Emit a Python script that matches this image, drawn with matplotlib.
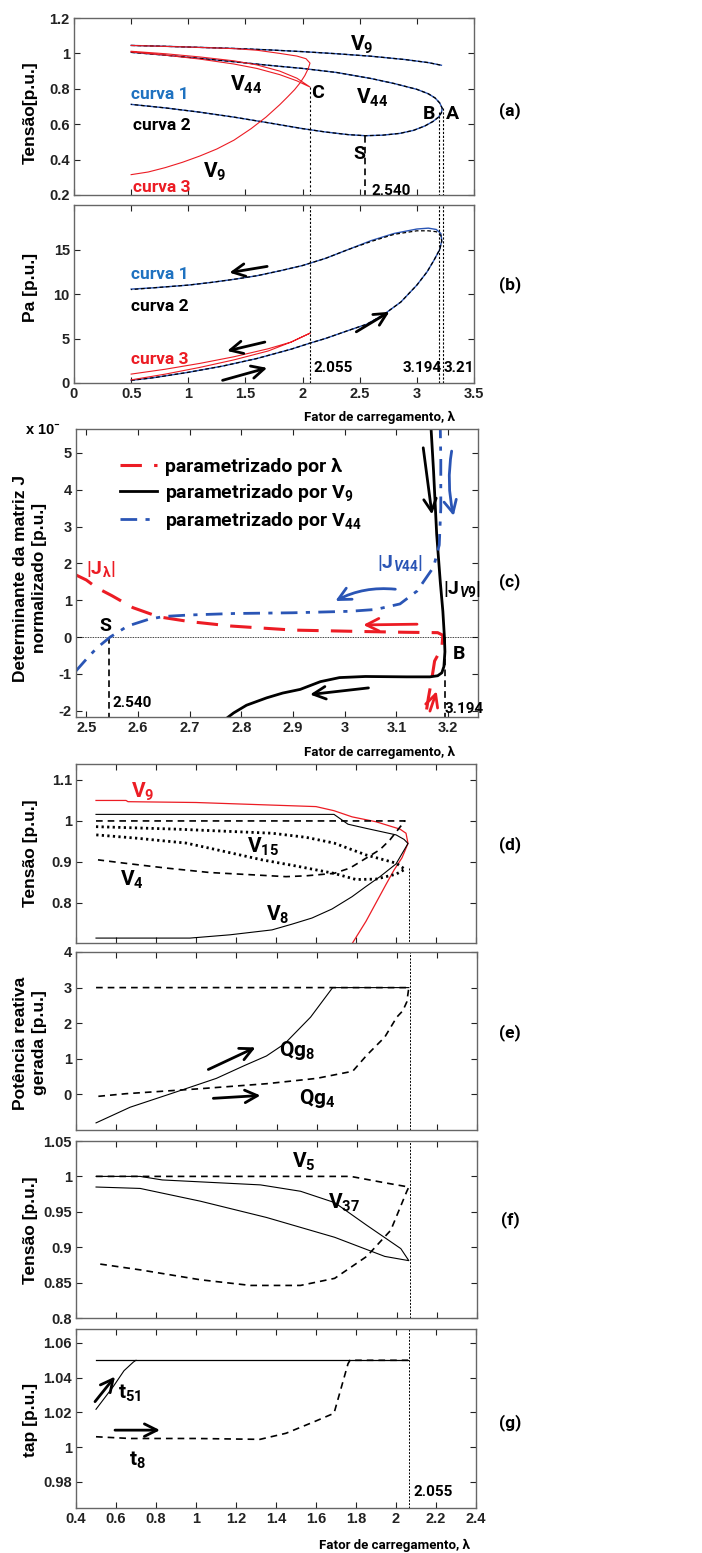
import matplotlib
matplotlib.use('Agg')
from matplotlib import pyplot as plt
from matplotlib.lines import Line2D
from matplotlib.ticker import FuncFormatter

plt.rcParams['font.family'] = ['Liberation Sans Narrow', 'Liberation Sans', 'DejaVu Sans']
plt.rcParams['font.weight'] = 'bold'
plt.rcParams['mathtext.fontset'] = 'custom'
plt.rcParams['mathtext.bf'] = 'Roboto:bold'
plt.rcParams['mathtext.rm'] = 'Roboto:bold'
plt.rcParams['mathtext.it'] = 'Roboto:bold:italic'
plt.rcParams['mathtext.default'] = 'bf'

RED = '#ec1c24'
BLUE = '#2a55b5'
CBLUE = '#1f72c0'
LAB = ['Roboto', 'DejaVu Sans']

# ---------------- (a) tensao ----------------
lam_v9 = [0.5, 0.8, 1.1, 1.4, 1.7, 2.0, 2.3, 2.6, 2.9, 3.1, 3.215]
v9_c1 = [1.045, 1.04, 1.034, 1.028, 1.02, 1.01, 0.998, 0.984, 0.965, 0.948, 0.933]
lam_v44 = [0.5, 0.8, 1.1, 1.4, 1.7, 2.0, 2.3, 2.6, 2.8, 3.0, 3.1, 3.16, 3.2, 3.222,
           3.215, 3.19, 3.14, 3.07, 2.97, 2.85, 2.7, 2.55, 2.4, 2.2, 2.0, 1.7, 1.4, 1.1, 0.8, 0.5]
v44_c1 = [1.006, 0.99, 0.972, 0.953, 0.933, 0.915, 0.892, 0.858, 0.83, 0.797, 0.772, 0.748, 0.72, 0.69,
          0.665, 0.64, 0.615, 0.59, 0.565, 0.548, 0.538, 0.535, 0.541, 0.556, 0.575, 0.608, 0.64, 0.668, 0.692, 0.712]
lam_v9_c3 = [0.5, 1.0, 1.4, 1.6, 1.8, 1.95, 2.03, 2.065,
             2.05, 2.02, 1.98, 1.93, 1.87, 1.8, 1.68, 1.55, 1.4, 1.25, 1.1, 0.95, 0.8, 0.65, 0.5]
v9_c3 = [1.045, 1.036, 1.027, 1.018, 1.0, 0.985, 0.97, 0.945,
         0.915, 0.875, 0.835, 0.795, 0.755, 0.71, 0.64, 0.575, 0.51, 0.46, 0.42, 0.385, 0.355, 0.33, 0.315]
lam_v44_c3 = [0.5, 0.8, 1.1, 1.4, 1.6, 1.8, 1.95, 2.065, 1.95, 1.8, 1.6, 1.4, 1.1, 0.8, 0.5]
v44_c3 = [1.012, 0.998, 0.98, 0.958, 0.935, 0.9, 0.86, 0.81, 0.845, 0.88, 0.915, 0.94, 0.968, 0.99, 1.008]

# ---------------- (b) Pa ----------------
lam_pa = [0.5, 0.7, 1.0, 1.3, 1.6, 1.9, 2.07, 2.2, 2.4, 2.56, 2.7, 2.86, 3.0, 3.09, 3.15, 3.2, 3.218,
          3.21, 3.17, 3.1, 3.0, 2.8, 2.6, 2.4, 2.2, 2.0, 1.8, 1.6, 1.4, 1.2, 1.0, 0.7, 0.5]
pa_c1 = [0.3, 0.6, 1.2, 1.9, 2.75, 3.8, 4.5, 5.0, 5.9, 6.6, 7.6, 9.1, 11.0, 12.5, 13.8, 15.0, 16.0,
         16.8, 17.25, 17.4, 17.3, 16.8, 16.0, 15.0, 14.0, 13.2, 12.6, 12.05, 11.65, 11.3, 11.0, 10.7, 10.55]
pa_c2 = [0.3, 0.6, 1.2, 1.9, 2.75, 3.8, 4.5, 5.0, 5.9, 6.6, 7.6, 9.1, 11.0, 12.5, 13.8, 15.0, 15.9,
         16.6, 17.0, 17.1, 17.1, 16.7, 15.9, 15.0, 14.0, 13.2, 12.6, 12.05, 11.65, 11.3, 11.0, 10.7, 10.5]
lam_pa_c3 = [0.5, 0.8, 1.1, 1.4, 1.7, 1.9, 2.065, 1.9, 1.7, 1.4, 1.1, 0.8, 0.5]
pa_c3 = [1.0, 1.55, 2.2, 2.95, 3.85, 4.6, 5.6, 4.6, 3.6, 2.6, 1.75, 1.0, 0.35]

# ---------------- (c) determinante ----------------
lam_jl = [2.475, 2.5, 2.52, 2.55, 2.59, 2.64, 2.7, 2.78, 2.9, 3.04, 3.12, 3.18, 3.19,
          3.188, 3.174, 3.169, 3.162, 3.156]
j_l = [1.72, 1.55, 1.34, 1.12, 0.8, 0.55, 0.42, 0.3, 0.19, 0.15, 0.13, 0.12, 0.05,
       -0.29, -0.65, -1.1, -1.65, -2.2]
lam_jv9 = [3.167, 3.172, 3.178, 3.185, 3.19, 3.193, 3.194, 3.192, 3.188, 3.18, 3.165, 3.12,
           3.04, 2.99, 2.953, 2.914, 2.88, 2.849, 2.81, 2.785, 2.772]
j_v9 = [5.7, 4.5, 2.8, 1.5, 0.7, 0.0, -0.4, -0.8, -0.97, -1.05, -1.08, -1.08,
        -1.07, -1.1, -1.21, -1.42, -1.52, -1.65, -1.85, -2.06, -2.2]
lam_jv44 = [2.478, 2.5, 2.52, 2.546, 2.58, 2.62, 2.65, 2.7, 2.785, 2.9, 3.01, 3.06, 3.107,
            3.14, 3.172, 3.183, 3.186, 3.186, 3.185]
j_v44 = [-0.95, -0.6, -0.3, 0.0, 0.3, 0.48, 0.56, 0.6, 0.64, 0.66, 0.7, 0.75, 0.9,
         1.25, 1.9, 2.5, 3.5, 4.8, 5.7]

# ---------------- (d) tensoes ----------------
lam_d_v9 = [0.5, 0.65, 0.66, 1.0, 1.3, 1.6, 1.69, 1.78, 1.9, 2.02, 2.05, 2.06,
            2.03, 1.99, 1.95, 1.9, 1.85, 1.78]
d_v9 = [1.05, 1.05, 1.047, 1.045, 1.04, 1.035, 1.025, 1.01, 0.998, 0.98, 0.97, 0.945,
        0.91, 0.88, 0.845, 0.8, 0.755, 0.7]
lam_d_v8 = [0.5, 1.0, 1.5, 1.69, 1.76, 1.85, 2.0, 2.04, 2.06,
            2.0, 1.92, 1.85, 1.78, 1.68, 1.58, 1.48, 1.38, 1.17, 0.97, 0.5]
d_v8 = [1.016, 1.016, 1.016, 1.016, 0.992, 0.982, 0.966, 0.955, 0.945,
        0.895, 0.864, 0.84, 0.815, 0.785, 0.763, 0.748, 0.734, 0.722, 0.714, 0.714]
lam_d_v4 = [0.5, 2.045, 2.045, 2.02, 1.97, 1.92, 1.85, 1.77, 1.69, 1.55, 1.45, 1.3, 1.07, 0.85, 0.64, 0.51]
d_v4 = [1.0, 1.0, 1.0, 0.985, 0.954, 0.93, 0.909, 0.885, 0.872, 0.866, 0.864, 0.868, 0.874, 0.885, 0.897, 0.905]
lam_d_v15 = [0.5, 0.9, 1.38, 1.55, 1.69, 1.85, 2.0, 2.045,
             2.0, 1.9, 1.8, 1.69, 1.5, 1.33, 1.1, 0.95, 0.7, 0.5]
d_v15 = [0.986, 0.98, 0.97, 0.96, 0.946, 0.917, 0.897, 0.882,
         0.87, 0.858, 0.857, 0.872, 0.89, 0.905, 0.93, 0.946, 0.958, 0.966]

# ---------------- (e) potencia reativa ----------------
lam_qg8 = [0.5, 0.67, 0.9, 1.1, 1.24, 1.35, 1.44, 1.57, 1.68, 2.06]
qg8 = [-0.8, -0.36, 0.07, 0.45, 0.81, 1.08, 1.42, 2.17, 3.0, 3.0]
lam_qg4 = [0.5, 2.06, 2.06, 2.05, 2.03, 2.0, 1.94, 1.85, 1.78, 1.6, 1.35, 1.02, 0.65, 0.5]
qg4 = [3.0, 3.0, 3.0, 2.6, 2.35, 2.17, 1.61, 1.1, 0.65, 0.45, 0.3, 0.16, 0.02, -0.06]

# ---------------- (f) tensoes ----------------
lam_v5 = [0.5, 1.77, 1.94, 2.06, 2.05, 1.97, 1.85, 1.69, 1.52, 1.27, 1.02, 0.72, 0.5]
v5 = [1.0, 1.0, 0.991, 0.985, 0.979, 0.924, 0.887, 0.856, 0.846, 0.846, 0.854, 0.868, 0.877]
lam_v37 = [0.5, 0.72, 0.83, 1.32, 1.52, 1.69, 1.85, 2.02, 2.06, 1.94, 1.69, 1.35, 1.02, 0.72, 0.5]
v37 = [1.0, 1.0, 0.995, 0.988, 0.979, 0.963, 0.931, 0.898, 0.881, 0.887, 0.914, 0.942, 0.965, 0.983, 0.985]

# ---------------- (g) tap ----------------
lam_t51 = [0.5, 2.06]
t51 = [1.05, 1.05]
lam_t51_up = [0.5, 0.587, 0.64, 0.687, 0.7]
t51_up = [1.0218, 1.035, 1.044, 1.049, 1.05]
lam_t8 = [0.5, 0.67, 1.0, 1.32, 1.45, 1.59, 1.69, 1.76, 1.77, 2.06]
t8 = [1.006, 1.005, 1.005, 1.0045, 1.008, 1.0146, 1.0195, 1.048, 1.05, 1.05]

lam_C = 2.065
lam_S = 2.55
lam_B = 3.194
lam_A = 3.225

W, H = 702, 1553
fig = plt.figure(figsize=(W / 100, H / 100), dpi=100)


def add_ax(l, r, t, b):
    ax = fig.add_axes([l / W, 1 - b / H, (r - l) / W, (b - t) / H])
    ax.tick_params(direction='in', top=True, right=True, length=4, width=0.8,
                   labelsize=10.5, colors='#222222', pad=3)
    for s in ax.spines.values():
        s.set_color('#666666')
        s.set_linewidth(1.0)
    ax.yaxis.set_major_formatter(FuncFormatter(lambda v, p: '%g' % v))
    ax.xaxis.set_major_formatter(FuncFormatter(lambda v, p: '%g' % v))
    return ax


def arrow(ax, tail, head, color='k', rad=0.0):
    ax.annotate('', xy=head, xytext=tail,
                arrowprops=dict(arrowstyle='->,head_length=0.9,head_width=0.45', lw=2,
                                color=color, connectionstyle='arc3,rad=%g' % rad,
                                shrinkA=0, shrinkB=0))


def lab(ax, x, y, s, color='k', size=13, ha='center'):
    ax.text(x, y, s, color=color, fontsize=size, ha=ha, va='center',
            family=LAB, fontweight='bold')


# (a)
ax = add_ax(74, 474, 18, 195)
ax.plot(lam_v9, v9_c1, color=BLUE, lw=1.0)
ax.plot(lam_v9, v9_c1, color='k', lw=0.9, ls=(0, (3, 2)))
ax.plot(lam_v44, v44_c1, color=BLUE, lw=1.0)
ax.plot(lam_v44, v44_c1, color='k', lw=0.9, ls=(0, (3, 2)))
ax.plot(lam_v9_c3, v9_c3, color=RED, lw=0.8)
ax.plot(lam_v44_c3, v44_c3, color=RED, lw=0.8)
ax.plot([lam_C, lam_C], [0.81, 0.2], color='k', lw=0.8, ls=(0, (2, 2)))
ax.plot([lam_B, lam_B], [0.67, 0.2], color='k', lw=0.8, ls=(0, (2, 1.5)))
ax.plot([lam_A, lam_A], [0.69, 0.2], color='k', lw=0.8, ls=(0, (2, 1.5)))
ax.plot([lam_S, lam_S], [0.535, 0.2], color='k', lw=1.2, ls=(0, (4, 2.5)))
ax.set_xlim(0, 3.5)
ax.set_ylim(0.2, 1.2)
ax.set_xticks([0, 0.5, 1, 1.5, 2, 2.5, 3, 3.5])
ax.set_yticks([0.2, 0.4, 0.6, 0.8, 1.0, 1.2])
ax.tick_params(labelbottom=False)
lab(ax, 2.52, 1.047, 'V$_9$', size=15)
lab(ax, 1.51, 0.82, 'V$_{44}$', size=15)
lab(ax, 2.13, 0.776, 'C', size=14)
lab(ax, 2.61, 0.75, 'V$_{44}$', size=15)
lab(ax, 3.11, 0.66, 'B', size=14)
lab(ax, 3.31, 0.66, 'A', size=14)
lab(ax, 0.75, 0.765, 'curva 1', color=CBLUE, size=12.5)
lab(ax, 0.77, 0.595, 'curva 2', size=12.5)
lab(ax, 2.50, 0.43, 'S', size=14)
lab(ax, 1.23, 0.33, 'V$_9$', size=15)
lab(ax, 0.77, 0.245, 'curva 3', color=RED, size=12.5)
lab(ax, 2.6, 0.22, '2.540', size=11, ha='left')

# (b)
ax = add_ax(74, 474, 205, 383)
ax.plot(lam_pa, pa_c1, color=BLUE, lw=1.0)
ax.plot(lam_pa, pa_c2, color='k', lw=0.9, ls=(0, (3, 2)))
ax.plot(lam_pa_c3, pa_c3, color=RED, lw=0.8)
for xv in (lam_C, lam_B, lam_A):
    ax.axvline(xv, color='k', lw=0.8, ls=(0, (2, 1.5)))
ax.set_xlim(0, 3.5)
ax.set_ylim(0, 20)
ax.set_xticks([0, 0.5, 1, 1.5, 2, 2.5, 3, 3.5])
ax.set_yticks([0, 5, 10, 15])
arrow(ax, (1.69, 13.1), (1.36, 12.4))
arrow(ax, (2.47, 5.75), (2.76, 8.0))
arrow(ax, (1.67, 4.6), (1.34, 3.6))
arrow(ax, (1.30, 0.3), (1.69, 1.7))
lab(ax, 0.75, 12.2, 'curva 1', color=CBLUE, size=12.5)
lab(ax, 0.75, 8.6, 'curva 2', size=12.5)
lab(ax, 0.75, 2.6, 'curva 3', color=RED, size=12.5)
lab(ax, 2.10, 1.7, '2.055', size=11, ha='left')
lab(ax, 3.05, 1.7, '3.194', size=11)
lab(ax, 3.37, 1.7, '3.21', size=11)
fig.text(455 / W, 1 - 417 / H, 'Fator de carregamento, λ', ha='right', va='center',
         fontsize=9.5, family=LAB, fontweight='bold')

# (c)
ax = add_ax(76, 478, 429, 717)
ax.axhline(0, color='k', lw=0.6, ls=(0, (1, 1)))
ax.plot([lam_S - 0.006, lam_S - 0.006], [0, -2.2], color='k', lw=1.2, ls=(0, (4, 2.5)))
ax.plot([lam_B, lam_B], [0, -2.2], color='k', lw=1.2, ls=(0, (4, 2.5)))
ax.plot(lam_jl, j_l, color=RED, lw=2.2, ls=(0, (7, 4)))
ax.plot(lam_jv9, j_v9, color='k', lw=2.0)
ax.plot(lam_jv44, j_v44, color=BLUE, lw=2.0, ls=(0, (6, 3, 1.5, 3)))
ax.set_xlim(2.48, 3.258)
ax.set_ylim(-2.17, 5.65)
ax.set_xticks([2.5, 2.6, 2.7, 2.8, 2.9, 3.0, 3.1, 3.2])
ax.set_yticks([-2, -1, 0, 1, 2, 3, 4, 5])
handles = [Line2D([], [], color=RED, lw=2.2, ls=(0, (7, 4))),
           Line2D([], [], color='k', lw=2.0),
           Line2D([], [], color=BLUE, lw=2.0, ls=(0, (6, 3, 1.5, 3)))]
leg = ax.legend(handles, ['parametrizado por λ', 'parametrizado por V$_9$',
                          'parametrizado por V$_{44}$'],
                loc='upper left', bbox_to_anchor=(0.065, 0.96), frameon=False,
                handlelength=1.9, handletextpad=0.45, labelspacing=0.3,
                prop=dict(family=LAB, weight='bold', size=14))
arrow(ax, (3.152, 5.14), (3.169, 3.33))
arrow(ax, (3.207, 5.05), (3.211, 3.29), color=BLUE, rad=0.1)
arrow(ax, (3.098, 1.30), (2.982, 0.98), color=BLUE, rad=0.15)
arrow(ax, (3.14, 0.35), (3.036, 0.33), color=RED)
arrow(ax, (3.046, -1.38), (2.933, -1.56))
arrow(ax, (3.165, -2.01), (3.178, -1.47), color=RED)
lab(ax, 2.527, 1.85, '|J$_λ$|', color=RED, size=14)
lab(ax, 3.107, 2.01, '|J$_{\\mathit{V44}}$|', color=BLUE, size=14)
lab(ax, 3.227, 1.3, '|J$_{\\mathit{V9}}$|', size=14)
lab(ax, 2.537, 0.3, 'S', size=14)
lab(ax, 2.55, -1.8, '2.540', size=11, ha='left')
lab(ax, 3.21, -0.46, 'B', size=14, ha='left')
lab(ax, 3.193, -1.96, '3.194', size=11, ha='left')
fig.text(43 / W, 1 - 430 / H, 'x 10$^{-}$', ha='center', va='center', fontsize=10.5,
         fontweight='bold')
fig.text(455 / W, 1 - 752 / H, 'Fator de carregamento, λ', ha='right', va='center',
         fontsize=9.5, family=LAB, fontweight='bold')

# (d)
ax = add_ax(76, 476, 764, 943)
ax.plot(lam_d_v9, d_v9, color=RED, lw=0.9)
ax.plot(lam_d_v8, d_v8, color='k', lw=0.8)
ax.plot(lam_d_v4, d_v4, color='k', lw=1.2, ls=(0, (4, 3)))
ax.plot(lam_d_v15, d_v15, color='k', lw=2.0, ls=(0, (0.8, 1.2)))
ax.plot([lam_C, lam_C], [0.885, 0.70], color='k', lw=0.7, ls=(0, (2, 1.5)))
ax.set_xlim(0.4, 2.4)
ax.set_ylim(0.702, 1.139)
ax.set_xticks([0.4, 0.6, 0.8, 1, 1.2, 1.4, 1.6, 1.8, 2, 2.2, 2.4])
ax.set_yticks([0.8, 0.9, 1.0, 1.1])
ax.tick_params(labelbottom=False)
lab(ax, 0.735, 1.071, 'V$_9$', color=RED, size=15)
lab(ax, 1.335, 0.937, 'V$_{15}$', size=15)
lab(ax, 0.68, 0.856, 'V$_4$', size=15)
lab(ax, 1.41, 0.771, 'V$_8$', size=15)

# (e)
ax = add_ax(76, 477, 952, 1130)
ax.plot(lam_qg4, qg4, color='k', lw=1.2, ls=(0, (4, 3)))
ax.plot(lam_qg8, qg8, color='k', lw=0.8)
ax.axvline(lam_C, color='k', lw=0.7, ls=(0, (2, 1.5)))
ax.set_xlim(0.4, 2.4)
ax.set_ylim(-1.0, 4.0)
ax.set_xticks([0.4, 0.6, 0.8, 1, 1.2, 1.4, 1.6, 1.8, 2, 2.2, 2.4])
ax.set_yticks([0, 1, 2, 3, 4])
ax.tick_params(labelbottom=False)
arrow(ax, (1.06, 0.70), (1.295, 1.32))
arrow(ax, (1.085, -0.11), (1.32, -0.03))
lab(ax, 1.505, 1.24, 'Qg$_8$', size=15)
lab(ax, 1.605, -0.11, 'Qg$_4$', size=15)

# (f)
ax = add_ax(76, 477, 1141, 1318)
ax.plot(lam_v5, v5, color='k', lw=1.2, ls=(0, (4, 3)))
ax.plot(lam_v37, v37, color='k', lw=0.8)
ax.axvline(lam_C, color='k', lw=0.7, ls=(0, (2, 1.5)))
ax.set_xlim(0.4, 2.4)
ax.set_ylim(0.8, 1.05)
ax.set_xticks([0.4, 0.6, 0.8, 1, 1.2, 1.4, 1.6, 1.8, 2, 2.2, 2.4])
ax.set_yticks([0.8, 0.85, 0.9, 0.95, 1.0, 1.05])
ax.tick_params(labelbottom=False)
lab(ax, 1.535, 1.021, 'V$_5$', size=15)
lab(ax, 1.735, 0.9625, 'V$_{37}$', size=15)

# (g)
ax = add_ax(76, 476, 1329, 1508)
ax.plot(lam_t51, t51, color='k', lw=0.9)
ax.plot(lam_t51_up, t51_up, color='k', lw=0.8)
ax.plot(lam_t8, t8, color='k', lw=1.2, ls=(0, (4, 3)))
ax.axvline(lam_C, color='k', lw=0.7, ls=(0, (2, 1.5)))
ax.set_xlim(0.4, 2.4)
ax.set_ylim(0.965, 1.068)
ax.set_xticks([0.4, 0.6, 0.8, 1, 1.2, 1.4, 1.6, 1.8, 2, 2.2, 2.4])
ax.set_yticks([0.98, 1.0, 1.02, 1.04, 1.06])
arrow(ax, (0.495, 1.0262), (0.595, 1.0406))
arrow(ax, (0.595, 1.0098), (0.82, 1.0098))
lab(ax, 0.67, 1.031, 't$_{51}$', size=15)
lab(ax, 0.705, 0.9925, 't$_8$', size=15)
lab(ax, 2.085, 0.974, '2.055', size=11, ha='left')
fig.text(470 / W, 1 - 1545 / H, 'Fator de carregamento, λ', ha='right', va='center',
         fontsize=9.5, family=LAB, fontweight='bold')

# y labels
ylab = dict(rotation=90, ha='center', va='center', fontsize=12.5, fontweight='bold',
            family=['Liberation Sans', 'DejaVu Sans'])
fig.text(30 / W, 1 - 113 / H, 'Tensão[p.u.]', **ylab)
fig.text(30 / W, 1 - 287 / H, 'Pa [p.u.]', **ylab)
fig.text(30 / W, 1 - 578 / H, 'Determinante da matriz J\nnormalizado [p.u.]',
         linespacing=1.3, **ylab)
fig.text(30 / W, 1 - 853 / H, 'Tensão [p.u.]', **ylab)
fig.text(30 / W, 1 - 1043 / H, 'Potência reativa\ngerada [p.u.]', linespacing=1.3, **ylab)
fig.text(30 / W, 1 - 1230 / H, 'Tensão [p.u.]', **ylab)
fig.text(30 / W, 1 - 1420 / H, 'tap [p.u.]', **ylab)

# panel letters
for letter, py in [('(a)', 111), ('(b)', 285), ('(c)', 582), ('(d)', 845),
                   ('(e)', 1033), ('(f)', 1220), ('(g)', 1423)]:
    fig.text(510 / W, 1 - py / H, letter, ha='center', va='center', fontsize=12.5,
             family=LAB, fontweight='bold')

fig.savefig('out.png', dpi=100)
